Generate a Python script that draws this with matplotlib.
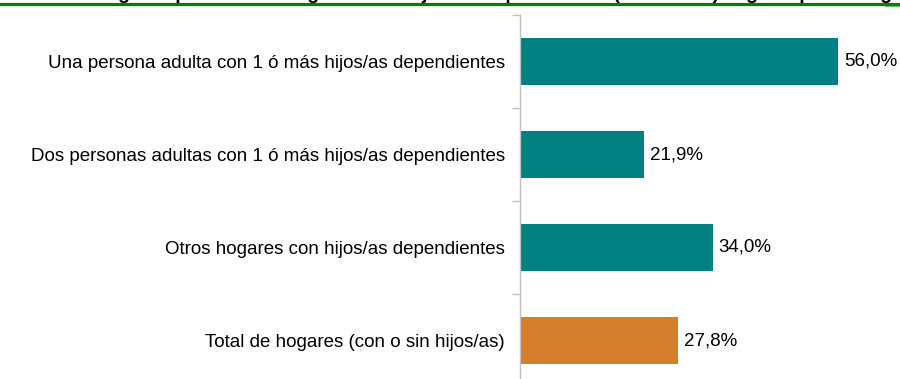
import matplotlib.pyplot as plt

plt.rcParams['font.family'] = ['Liberation Sans', 'DejaVu Sans']

categorias = [
    'Una persona adulta con 1 ó más hijos/as dependientes',
    'Dos personas adultas con 1 ó más hijos/as dependientes',
    'Otros hogares con hijos/as dependientes',
    'Total de hogares (con o sin hijos/as)',
]
tasas = [56.0, 21.9, 34.0, 27.8]
colores = ['#008080', '#008080', '#008080', '#D57F2D']
titulo = 'Tasa de riesgo de pobreza en hogares con hijos/as dependientes (2008-2009) según tipo de hogar'

fig = plt.figure(figsize=(9, 3.79), dpi=100)

# title sits mostly above the page, green rule underneath
fig.text(0.008, 1.0 + 1.0 / 379, titulo, fontsize=14, fontweight='bold',
         ha='left', va='baseline', color='black')
fig.add_artist(plt.Line2D([0, 1], [1 - 3.5 / 379, 1 - 3.5 / 379],
                          color='#008000', linewidth=2.3))
fig.add_artist(plt.Line2D([885 / 900, 1], [1 - 5.5 / 379, 1 - 5.5 / 379],
                          color='#66bb66', linewidth=0.8))

ax = fig.add_axes([520 / 900, -8 / 379, 380 / 900, 372 / 379])
pos = list(range(len(categorias)))
ax.barh(pos, tasas, height=0.5, color=colores)

for p, v in zip(pos, tasas):
    ax.text(v + 1.0, p, f'{v:.1f}%'.replace('.', ','), va='center', ha='left',
            fontsize=13.5)

ax.set_xlim(0, 380 / 5.68)
ax.set_ylim(len(categorias) - 0.5, -0.5)

for s in ['top', 'right', 'bottom']:
    ax.spines[s].set_visible(False)
ax.spines['left'].set_color('#c0c0c0')
ax.spines['left'].set_linewidth(1)
ax.set_xticks([])

ax.set_yticks(pos)
ax.set_yticklabels(categorias, fontsize=13.5)
ax.tick_params(axis='y', which='major', length=0, pad=11)
ax.set_yticks([p - 0.5 for p in pos] + [len(pos) - 0.5], minor=True)
ax.tick_params(axis='y', which='minor', length=5.8, color='#c0c0c0', width=1)

plt.savefig('out.png', dpi=100)
